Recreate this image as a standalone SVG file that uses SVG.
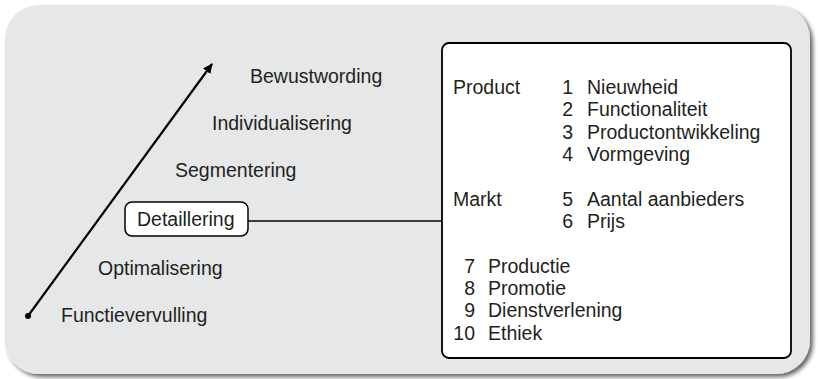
<svg xmlns="http://www.w3.org/2000/svg" width="818" height="379" viewBox="0 0 818 379">
<defs>
<filter id="sh" x="-5%" y="-5%" width="110%" height="115%">
<feGaussianBlur in="SourceAlpha" stdDeviation="2"/>
<feOffset dx="3" dy="3" result="b"/>
<feComponentTransfer><feFuncA type="linear" slope="0.6"/></feComponentTransfer>
<feMerge><feMergeNode/><feMergeNode in="SourceGraphic"/></feMerge>
</filter>
<marker id="ah" viewBox="0 0 10 10" refX="9" refY="5" markerWidth="10" markerHeight="10" markerUnits="userSpaceOnUse" orient="auto">
<path d="M0,0.5 L10,5 L0,9.5 Z" fill="#000"/>
</marker>
<style>
text{font-family:"Liberation Sans",Arial,sans-serif;font-size:19.5px;fill:#231f20}
.n{text-anchor:end}
</style>
</defs>
<rect x="5" y="5" width="805" height="369" rx="34" ry="34" fill="#e6e7e8" filter="url(#sh)"/>
<g id="connectors">
<line x1="28" y1="316" x2="212" y2="64" stroke="#000" stroke-width="2.2" marker-end="url(#ah)"/>
<circle cx="28" cy="316" r="3" fill="#000"/>
<line x1="248" y1="221" x2="442" y2="221" stroke="#000" stroke-width="1.5"/>
</g>
<g id="bewustwording"><text x="250" y="83">Bewustwording</text></g>
<g id="individualisering"><text x="212" y="130">Individualisering</text></g>
<g id="segmentering"><text x="175" y="177">Segmentering</text></g>
<g id="detaillering"><rect x="125" y="202" width="123" height="34" rx="7" fill="#fff" stroke="#000" stroke-width="1.5"/><text x="137" y="225.5">Detaillering</text></g>
<g id="optimalisering"><text x="98" y="275">Optimalisering</text></g>
<g id="functievervulling"><text x="61" y="322">Functievervulling</text></g>
<g id="kenmerken">
<rect x="442" y="43" width="349" height="315" rx="7" fill="#fff" stroke="#000" stroke-width="1.8"/>
<text x="453" y="94">Product</text>
<text class="n" x="573" y="94">1</text><text x="587" y="94">Nieuwheid</text>
<text class="n" x="573" y="116">2</text><text x="587" y="116">Functionaliteit</text>
<text class="n" x="573" y="139">3</text><text x="587" y="139">Productontwikkeling</text>
<text class="n" x="573" y="161">4</text><text x="587" y="161">Vormgeving</text>
<text x="453" y="206">Markt</text>
<text class="n" x="573" y="206">5</text><text x="587" y="206">Aantal aanbieders</text>
<text class="n" x="573" y="228">6</text><text x="587" y="228">Prijs</text>
<text class="n" x="475" y="273">7</text><text x="488" y="273">Productie</text>
<text class="n" x="475" y="295">8</text><text x="488" y="295">Promotie</text>
<text class="n" x="475" y="317">9</text><text x="488" y="317">Dienstverlening</text>
<text class="n" x="475" y="340">10</text><text x="488" y="340">Ethiek</text>
</g>
</svg>
